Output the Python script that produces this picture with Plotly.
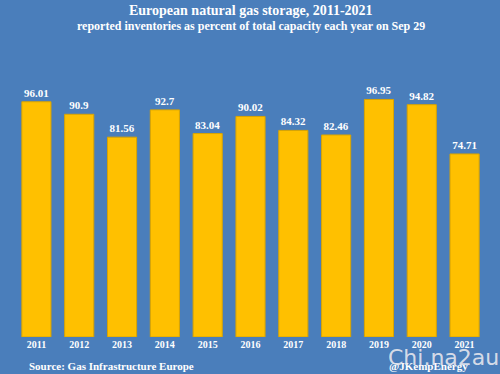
import plotly.graph_objects as go

years = ["2011", "2012", "2013", "2014", "2015", "2016", "2017", "2018", "2019", "2020", "2021"]
storage_pct = [96.01, 90.9, 81.56, 92.7, 83.04, 90.02, 84.32, 82.46, 96.95, 94.82, 74.71]
value_labels = ["96.01", "90.9", "81.56", "92.7", "83.04", "90.02", "84.32", "82.46", "96.95", "94.82", "74.71"]

BG = "#4A7EBB"
BAR = "#FFC000"
SERIF = "Liberation Serif, Times New Roman, serif"

W, H = 500, 374
l, r, t, b = 15, 14, 92, 37
pw, ph = W - l - r, H - t - b


def px(x):
    return (x - l) / pw


def py(y):
    return (H - b - y) / ph


fig = go.Figure(go.Bar(
    x=years, y=storage_pct,
    text=value_labels, textposition="outside",
    textfont=dict(family=SERIF, size=11, color="white", weight="bold"),
    marker=dict(color=BAR, line=dict(color="#D9A400", width=1)),
    cliponaxis=False,
))

fig.update_layout(
    width=W, height=H,
    paper_bgcolor=BG, plot_bgcolor=BG,
    margin=dict(l=l, r=r, t=t, b=b),
    bargap=0.32,
    showlegend=False,
    font=dict(family=SERIF, color="white"),
    xaxis=dict(showgrid=False, showline=False, ticks="", zeroline=False,
               tickfont=dict(family=SERIF, size=10, color="white", weight="bold")),
    yaxis=dict(range=[0, 100], visible=False, showgrid=False, zeroline=False),
    annotations=[
        dict(text="European natural gas storage, 2011-2021", x=0.5, y=py(10), xref="paper", yref="paper",
             xanchor="center", yanchor="middle", showarrow=False,
             font=dict(family=SERIF, size=14, color="white", weight="bold")),
        dict(text="reported inventories as percent of total capacity each year on Sep 29", x=0.5, y=py(26),
             xref="paper", yref="paper", xanchor="center", yanchor="middle", showarrow=False,
             font=dict(family=SERIF, size=12, color="white", weight="bold")),
        dict(text="Source: Gas Infrastructure Europe", x=px(27), y=py(366), xref="paper", yref="paper",
             xanchor="left", yanchor="middle", showarrow=False,
             font=dict(family=SERIF, size=11, color="white", weight="bold")),
        dict(text="@JKempEnergy", x=px(428), y=py(366), xref="paper", yref="paper",
             xanchor="center", yanchor="middle", showarrow=False,
             font=dict(family=SERIF, size=11, color="white", weight="bold")),
        dict(text="Chi.na2au", x=px(443), y=py(357), xref="paper", yref="paper",
             xanchor="center", yanchor="middle", showarrow=False,
             font=dict(family="DejaVu Sans", size=22, color="rgba(232,232,238,0.9)")),
    ],
)

fig.write_html("out.html",
               config={"displayModeBar": False},
               post_script="document.body.style.margin='0';document.body.style.overflow='hidden';")
